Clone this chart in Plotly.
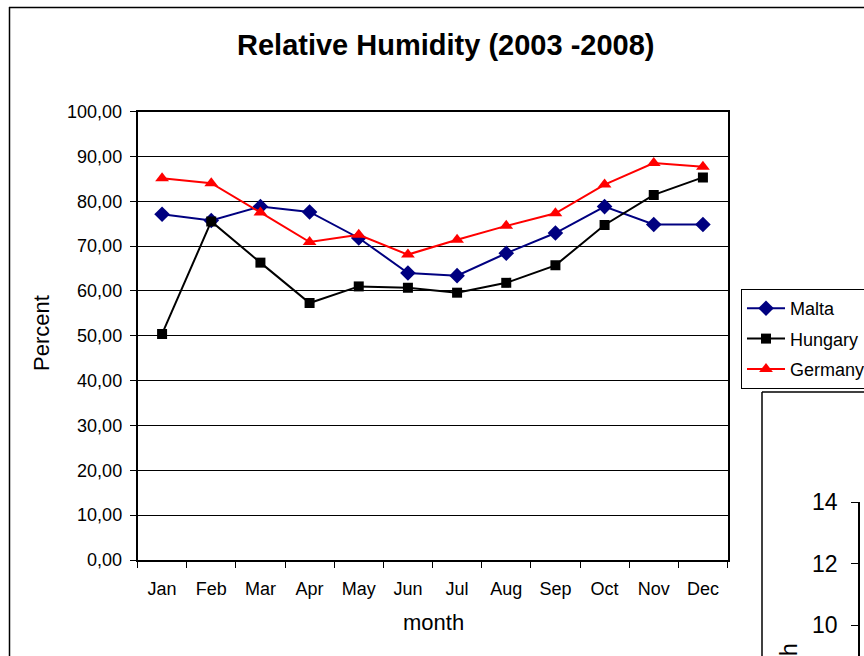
import plotly.graph_objects as go

W, H = 864, 656
OFF = 0

months = ["Jan", "Feb", "Mar", "Apr", "May", "Jun", "Jul", "Aug", "Sep", "Oct", "Nov", "Dec"]
malta = [77.1, 75.7, 78.8, 77.6, 71.8, 64.0, 63.4, 68.4, 72.9, 78.8, 74.8, 74.8]
hungary = [50.4, 75.5, 66.3, 57.3, 61.0, 60.7, 59.6, 61.8, 65.7, 74.7, 81.4, 85.3]
germany = [85.1, 84.0, 77.5, 70.9, 72.5, 68.1, 71.4, 74.5, 77.3, 83.7, 88.5, 87.7]
y_ticks = [0, 10, 20, 30, 40, 50, 60, 70, 80, 90, 100]
side_ticks = [10, 12, 14]

FONT = "Liberation Sans, Arial, sans-serif"

def px_x(p):
    return (p - OFF) / W

def px_y(p):
    return 1 - (p - OFF) / H

fig = go.Figure()
fig.add_trace(go.Scatter(x=months, y=malta, name="Malta", mode="lines+markers", legendgroup="a",
                         line=dict(color="#000080", width=2),
                         marker=dict(symbol="diamond", size=12, color="#000080")))
fig.add_trace(go.Scatter(x=months, y=hungary, name="Hungary", mode="lines+markers", legendgroup="b",
                         line=dict(color="#000000", width=2),
                         marker=dict(symbol="square", size=10, color="#000000")))
fig.add_trace(go.Scatter(x=months, y=germany, name="Germany", mode="lines+markers", legendgroup="c",
                         line=dict(color="#FF0000", width=2),
                         marker=dict(symbol="triangle-up", size=12, color="#FF0000")))

# partial neighbouring chart axis (cut off at the right edge)
fig.add_trace(go.Scatter(x=[None], y=[None], xaxis="x2", yaxis="y2", showlegend=False))

fig.update_layout(
    template="none",
    width=W, height=H,
    margin=dict(l=0, r=0, t=0, b=0, autoexpand=False),
    paper_bgcolor="white", plot_bgcolor="white",
    separators=",.",
    font=dict(family=FONT, size=18, color="black"),
    showlegend=True,
    legend=dict(x=px_x(741), y=px_y(289), xanchor="left", yanchor="top",
                bordercolor="black", borderwidth=1, bgcolor="white",
                font=dict(size=18), tracegroupgap=4, itemwidth=38),
    xaxis=dict(domain=[px_x(137.5), px_x(727.5)], type="category", automargin=False,
               range=[-0.5, len(months) - 0.5],
               showline=True, linecolor="black", linewidth=1.5, mirror=True,
               ticks="outside", ticklen=6, tickcolor="black", tickson="boundaries",
               showgrid=False, ticklabelstandoff=12, zeroline=False),
    yaxis=dict(domain=[px_y(560), px_y(111.5)], range=[0, 100], automargin=False,
               tickvals=y_ticks, tickformat=".2f",
               showline=True, linecolor="black", linewidth=1.5, mirror=True,
               ticks="outside", ticklen=6, tickcolor="black",
               showgrid=True, gridcolor="black", gridwidth=1, zeroline=False,
               ticklabelstandoff=4),
    xaxis2=dict(domain=[px_x(860), px_x(864)], anchor="y2", visible=False, range=[0, 1],
                automargin=False),
    yaxis2=dict(domain=[0, px_y(502)], anchor="x2", automargin=False,
                range=[14 - (H + OFF - 502) / 30.75, 14],
                tickvals=side_ticks, showline=True, linecolor="black", linewidth=1.5,
                ticks="outside", ticklen=7, tickcolor="black", showgrid=False,
                zeroline=False, tickfont=dict(size=23), side="left",
                ticklabelstandoff=9),
)

fig.add_annotation(text="<b>Relative Humidity (2003 -2008)</b>", x=px_x(445), y=px_y(45),
                   xref="paper", yref="paper", showarrow=False,
                   font=dict(size=29, family=FONT), xanchor="center", yanchor="middle")
fig.add_annotation(text="Percent", x=px_x(42), y=px_y(333), xref="paper", yref="paper",
                   showarrow=False, textangle=-90, font=dict(size=22),
                   xanchor="center", yanchor="middle")
fig.add_annotation(text="month", x=px_x(433.5), y=px_y(622), xref="paper", yref="paper",
                   showarrow=False, font=dict(size=22), xanchor="center", yanchor="middle")
fig.add_annotation(text="Depth", x=px_x(788), y=px_y(642), xref="paper", yref="paper",
                   showarrow=False, textangle=-90, font=dict(size=23),
                   xanchor="center", yanchor="top")

# outer chart border and neighbouring chart border (both cut off by the frame)
for (x0, y0, x1, y1) in [(9, 7.5, 880, 7.5), (9.5, 7, 9.5, 680), (762, 392, 880, 392), (762, 392, 762, 680)]:
    fig.add_shape(type="line", xref="paper", yref="paper",
                  x0=px_x(x0), y0=px_y(y0), x1=px_x(x1), y1=px_y(y1),
                  line=dict(color="black", width=1.5))

fig.write_html("out.html", config={"displayModeBar": False},
               post_script="document.body.style.margin='0';document.body.style.overflow='hidden';")
